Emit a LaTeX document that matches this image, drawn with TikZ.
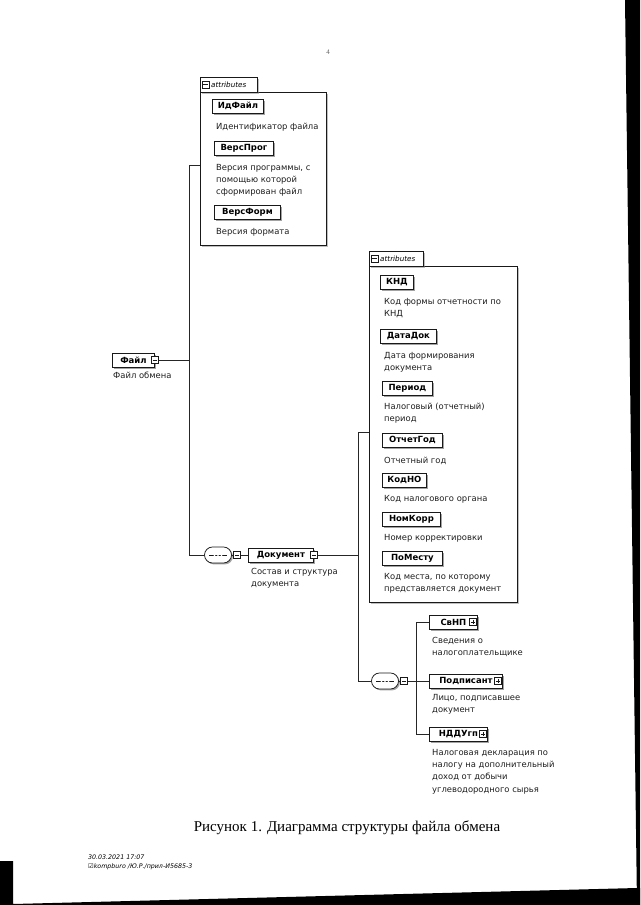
\documentclass[tikz,border=0pt]{standalone}
\usepackage{fontspec}
\setmainfont{Liberation Serif}
\setsansfont{DejaVu Sans}
\usetikzlibrary{shapes.misc,shadows}
\tikzset{
  x=1pt, y=-1pt,
  conn/.style={line width=0.75pt, draw=black!85},
  elem/.style={draw=black!90, line width=0.85pt, fill=white, anchor=west,
    font=\sffamily\bfseries\fontsize{8.5}{10}\selectfont, minimum height=14pt, inner sep=0pt,
    drop shadow={shadow xshift=1.5pt, shadow yshift=-1.5pt, fill=black!60, opacity=.6}},
  desc/.style={anchor=north west, align=left, inner sep=0pt, text=black!88,
    font=\sffamily\fontsize{8.4}{12.3}\selectfont},
  grp/.style={draw=black!90, line width=0.75pt, fill=white, anchor=north west, inner sep=0pt,
    drop shadow={shadow xshift=1.2pt, shadow yshift=-1.2pt, fill=black!50, opacity=.5}},
  tabtext/.style={anchor=west, inner sep=0pt, font=\sffamily\itshape\fontsize{7.2}{8}\selectfont},
  sq/.style={draw=black!90, fill=white, line width=0.55pt, minimum size=7pt, inner sep=0pt},
  minus/.style={sq, path picture={\draw[line width=0.55pt]
      ([xshift=1.4pt]path picture bounding box.west) -- ([xshift=-1.4pt]path picture bounding box.east);}},
  plus/.style={sq, path picture={\draw[line width=0.55pt]
      ([xshift=1.4pt]path picture bounding box.west) -- ([xshift=-1.4pt]path picture bounding box.east)
      ([yshift=-1.4pt]path picture bounding box.north) -- ([yshift=1.4pt]path picture bounding box.south);}},
  seq/.style={rounded rectangle, draw=black!90, line width=0.75pt, fill=white, minimum width=27pt,
    minimum height=16pt, inner sep=0pt,
    drop shadow={shadow xshift=1.4pt, shadow yshift=-1.4pt, fill=black!60, opacity=.6},
    path picture={
      \draw[line width=0.6pt] ([xshift=-9pt]path picture bounding box.center) -- ([xshift=9pt]path picture bounding box.center);
      \fill ([xshift=-3.5pt]path picture bounding box.center) circle (1.15pt);
      \fill (path picture bounding box.center) circle (1.15pt);
      \fill ([xshift=3.5pt]path picture bounding box.center) circle (1.15pt);}},
}
\begin{document}
\begin{tikzpicture}
\useasboundingbox (0,0) rectangle (640,905);
\fill[white] (0,0) rectangle (640,905);
% scan edges
\fill[black] (625,0) -- (640,0) -- (640,905) -- (637,905) -- cycle;
\fill[black] (0,861) -- (13,861) -- (13,904) -- (637,888) -- (640,888) -- (640,905) -- (0,905) -- cycle;

% page number
\node[font=\fontsize{7}{8}\selectfont, text=black!60, inner sep=0pt] (pg) at (328,52) {4};

% ---------- attributes group 1 ----------
\node[grp, minimum width=126pt, minimum height=153pt] (box1) at (200,92) {};
\node[grp, minimum width=57pt, minimum height=15pt] (tab1) at (200,77) {};
\node[minus] (tab1m) at (205.5,84.5) {};
\node[tabtext] (tab1t) at (211,84.5) {attributes};

\node[elem, minimum width=51pt] (e11) at (212,106) {ИдФайл};
\node[desc] (d11) at (216,123) {Идентификатор файла};
\node[elem, minimum width=59pt] (e12) at (214,148) {ВерсПрог};
\node[desc] (d12) at (216,164) {Версия программы, с\\помощью которой\\сформирован файл};
\node[elem, minimum width=66pt] (e13) at (214,212) {ВерсФорм};
\node[desc] (d13) at (216,228) {Версия формата};

% ---------- root ----------
\node[elem, minimum width=42pt] (fl) at (112,360) {Файл\hspace{5pt}};
\node[minus] (fm) at (fl.east) {};
\node[desc] (dfl) at (113,372) {Файл обмена};

% ---------- sequence 1 and Document ----------
\node[seq] (seq1) at (218,555) {};
\node[minus] (sq1) at (237,555) {};
\node[elem, minimum width=65pt] (doc) at (248,555) {Документ\hspace{5pt}};
\node[minus] (docm) at (doc.east) {};
\node[desc] (ddoc) at (251,568) {Состав и структура\\документа};

% ---------- attributes group 2 ----------
\node[grp, minimum width=148pt, minimum height=336pt] (box2) at (369,266) {};
\node[grp, minimum width=54pt, minimum height=15pt] (tab2) at (369,251) {};
\node[minus] (tab2m) at (374.5,258.5) {};
\node[tabtext] (tab2t) at (380,258.5) {attributes};

\node[elem, minimum width=33pt] (e21) at (380,282) {КНД};
\node[desc] (d21) at (384,298) {Код формы отчетности по\\КНД};
\node[elem, minimum width=56pt] (e22) at (380,336) {ДатаДок};
\node[desc] (d22) at (384,352) {Дата формирования\\документа};
\node[elem, minimum width=50pt] (e23) at (382,388) {Период};
\node[desc] (d23) at (384,403) {Налоговый (отчетный)\\период};
\node[elem, minimum width=60pt] (e24) at (382,440) {ОтчетГод};
\node[desc] (d24) at (384,457) {Отчетный год};
\node[elem, minimum width=44pt] (e25) at (382,480) {КодНО};
\node[desc] (d25) at (384,495) {Код налогового органа};
\node[elem, minimum width=58pt] (e26) at (382,519) {НомКорр};
\node[desc] (d26) at (384,534) {Номер корректировки};
\node[elem, minimum width=60pt] (e27) at (382,558) {ПоМесту};
\node[desc] (d27) at (384,573) {Код места, по которому\\представляется документ};

% ---------- sequence 2 and children ----------
\node[seq] (seq2) at (385,681) {};
\node[minus] (sq2) at (404,681) {};
\node[elem, minimum width=48pt] (svnp) at (429,622) {СвНП\hspace{10pt}};
\node[plus] (svnpp) at ([xshift=-5pt]svnp.east) {};
\node[desc] (dsvnp) at (432,637) {Сведения о\\налогоплательщике};
\node[elem, minimum width=73pt] (podp) at (429,681) {Подписант\hspace{10pt}};
\node[plus] (podpp) at ([xshift=-5pt]podp.east) {};
\node[desc] (dpodp) at (432,694) {Лицо, подписавшее\\документ};
\node[elem, minimum width=58pt] (nddu) at (429,734) {НДДУгп\hspace{10pt}};
\node[plus] (ndduu) at ([xshift=-5pt]nddu.east) {};
\node[desc] (dnddu) at (432,749) {Налоговая декларация по\\налогу на дополнительный\\доход от добычи\\углеводородного сырья};

% ---------- connectors ----------
\coordinate (j1t) at (189,165);
\coordinate (j1b) at (189,555);
\draw[conn] (box1.west |- j1t) -- (j1t) -- (j1b) -- (seq1.west);
\draw[conn] (fm.east) -- (fm.east -| j1t);
\draw[conn] (seq1.east) -- (sq1.west);
\draw[conn] (sq1.east) -- (doc.west);
\coordinate (j2t) at (358,432);
\coordinate (j2b) at (358,681);
\draw[conn] (box2.west |- j2t) -- (j2t) -- (j2b) -- (seq2.west);
\draw[conn] (docm.east) -- (docm.east -| j2t);
\draw[conn] (seq2.east) -- (sq2.west);
\coordinate (j3) at (416,681);
\draw[conn] (svnp.west) -- (svnp.west -| j3) -- (nddu.west -| j3) -- (nddu.west);
\draw[conn] (sq2.east) -- (podp.west);

% ---------- caption and footer ----------
\node[font=\fontsize{15}{18}\selectfont, inner sep=0pt] (cap) at (347,828) {Рисунок 1. Диаграмма структуры файла обмена};
\node[anchor=west, inner sep=0pt, font=\sffamily\itshape\fontsize{6.3}{8}\selectfont] (f1) at (88,857) {30.03.2021 17:07};
\node[anchor=west, inner sep=0pt, font=\sffamily\itshape\fontsize{6.3}{8}\selectfont] (f2) at (88,867) {{\upshape ☑}kompburo /Ю.Р./прил-И5685-3};
\end{tikzpicture}
\end{document}
